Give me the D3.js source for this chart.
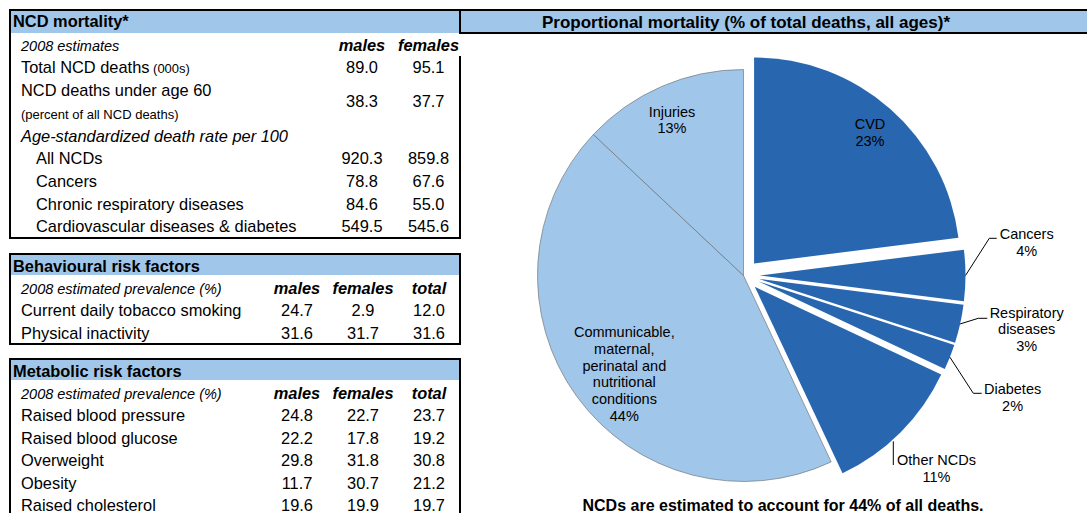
<!DOCTYPE html>
<html>
<head>
<meta charset="utf-8">
<script src="https://cdn.jsdelivr.net/npm/d3@7"></script>
<style>
  html, body { margin: 0; padding: 0; background: #fff; }
  svg { display: block; font-family: "Liberation Sans", Arial, Helvetica, sans-serif; }
</style>
</head>
<body>
<svg id="chart" width="1087" height="513"></svg>
<script>
// ---------- NCD mortality (2008 estimates) ----------
const ncdColumns = ["males", "females"];
const ncdRowLabels = [
  "Total NCD deaths",
  "NCD deaths under age 60",
  "All NCDs",
  "Cancers",
  "Chronic respiratory diseases",
  "Cardiovascular diseases & diabetes"
];
const ncdRowNotes = ["(000s)", "(percent of all NCD deaths)", "", "", "", ""];
const ncdMales   = [89.0, 38.3, 920.3, 78.8, 84.6, 549.5];
const ncdFemales = [95.1, 37.7, 859.8, 67.6, 55.0, 545.6];

// ---------- Behavioural risk factors ----------
const riskColumns = ["males", "females", "total"];
const behaviourLabels  = ["Current daily tobacco smoking", "Physical inactivity"];
const behaviourMales   = [24.7, 31.6];
const behaviourFemales = [2.9, 31.7];
const behaviourTotal   = [12.0, 31.6];

// ---------- Metabolic risk factors ----------
const metabolicLabels  = ["Raised blood pressure", "Raised blood glucose", "Overweight", "Obesity", "Raised cholesterol"];
const metabolicMales   = [24.8, 22.2, 29.8, 11.7, 19.6];
const metabolicFemales = [22.7, 17.8, 31.8, 30.7, 19.9];
const metabolicTotal   = [23.7, 19.2, 30.8, 21.2, 19.7];

// ---------- Proportional mortality ----------
const causes = ["CVD", "Cancers", "Respiratory diseases", "Diabetes", "Other NCDs",
  "Communicable, maternal, perinatal and nutritional conditions", "Injuries"];
const causeLines = [["CVD"], ["Cancers"], ["Respiratory", "diseases"], ["Diabetes"], ["Other NCDs"],
  ["Communicable,", "maternal,", "perinatal and", "nutritional", "conditions"], ["Injuries"]];
const causeShares = [23, 4, 3, 2, 11, 44, 13];
const causeIsNcd  = [true, true, true, true, true, false, false];
const ncdShareTotal = 44;

// ---------- styling ----------
const LIGHT = "#A0C6E9";
const DARK  = "#2866B0";
const BODY = 16.4;
const fmt = d3.format(".1f");

const svg = d3.select("#chart");
svg.append("rect").attr("width", 1087).attr("height", 513).attr("fill", "#fff");

function text(sel, x, y, str, opts = {}) {
  return sel.append("text")
    .attr("x", x).attr("y", y)
    .attr("font-size", opts.size || BODY)
    .attr("font-weight", opts.bold ? "bold" : null)
    .attr("font-style", opts.italic ? "italic" : null)
    .attr("text-anchor", opts.anchor || "start")
    .attr("fill", "#000")
    .text(str);
}

// ---------- header bars ----------
const frame = svg.append("g");
frame.append("rect").attr("x", 11).attr("y", 11).attr("width", 449).attr("height", 22).attr("fill", LIGHT);
frame.append("rect").attr("x", 461).attr("y", 11).attr("width", 626).attr("height", 21).attr("fill", LIGHT);

const line = (x1, y1, x2, y2) => frame.append("line")
  .attr("x1", x1).attr("y1", y1).attr("x2", x2).attr("y2", y2)
  .attr("stroke", "#000").attr("stroke-width", 2);

// NCD mortality box and the pie panel heading
line(9, 10, 1087, 10);
line(10, 9, 10, 239);
line(9, 238, 461, 238);
line(460, 56, 460, 239);
line(460, 9, 460, 34);
line(459, 33, 1087, 33);

text(svg, 13, 27, "NCD mortality*", { bold: true });

// rows in the NCD table sit on a regular baseline grid
const ncdRow = d3.scaleLinear().domain([0, 1]).range([50.7, 73.4]);
const ncdCol = d3.scalePoint().domain(ncdColumns).range([362, 428.5]);

text(svg, 21, ncdRow(0), "2008 estimates", { italic: true, size: 14.5 });
ncdColumns.forEach(c => text(svg, ncdCol(c), ncdRow(0), c, { bold: true, italic: true, anchor: "middle" }));

// slot of each data row on the grid; the second row spans two slots
const ncdSlots = [1, 2, 5, 6, 7, 8];
const ncdIndent = [21, 21, 36, 36, 36, 36];
ncdRowLabels.forEach((lab, i) => {
  const y = ncdRow(ncdSlots[i]);
  const t = text(svg, ncdIndent[i], y, lab);
  let vy = y;
  if (i === 0) {
    t.append("tspan").attr("font-size", 13).text(" " + ncdRowNotes[i]);
  } else if (i === 1) {
    text(svg, 21, ncdRow(ncdSlots[i] + 1), ncdRowNotes[i], { size: 13 });
    vy = (ncdRow(ncdSlots[i]) + ncdRow(ncdSlots[i] + 1)) / 2;
  }
  text(svg, ncdCol("males"), vy, fmt(ncdMales[i]), { anchor: "middle" });
  text(svg, ncdCol("females"), vy, fmt(ncdFemales[i]), { anchor: "middle" });
});
text(svg, 21, ncdRow(4), "Age-standardized death rate per 100", { italic: true });

// ---------- risk factor boxes ----------
const riskCol = d3.scalePoint().domain(riskColumns).range([297, 429]);

function riskBox(top, height, title, labels, males, females, total) {
  const g = svg.append("g");
  g.append("rect").attr("x", 11).attr("y", top + 1).attr("width", 448).attr("height", 20).attr("fill", LIGHT);
  g.append("rect").attr("x", 10).attr("y", top).attr("width", 450).attr("height", height)
    .attr("fill", "none").attr("stroke", "#000").attr("stroke-width", 2);
  text(g, 13, top + 17.5, title, { bold: true });
  const row = d3.scaleLinear().domain([0, 1]).range([top + 39.5, top + 62]);
  text(g, 21, row(0), "2008 estimated prevalence (%)", { italic: true, size: 14.5 });
  riskColumns.forEach(c => text(g, riskCol(c), row(0), c, { bold: true, italic: true, anchor: "middle" }));
  labels.forEach((lab, i) => {
    const y = row(i + 1);
    text(g, 21, y, lab);
    text(g, riskCol("males"), y, fmt(males[i]), { anchor: "middle" });
    text(g, riskCol("females"), y, fmt(females[i]), { anchor: "middle" });
    text(g, riskCol("total"), y, fmt(total[i]), { anchor: "middle" });
  });
}
riskBox(254, 90, "Behavioural risk factors", behaviourLabels, behaviourMales, behaviourFemales, behaviourTotal);
riskBox(359, 200, "Metabolic risk factors", metabolicLabels, metabolicMales, metabolicFemales, metabolicTotal);

// ---------- proportional mortality pie ----------
text(svg, 542, 28, "Proportional mortality (% of total deaths, all ages)*", { bold: true, size: 17 });

const cx = 743.5, cy = 275.5, R = 206, explode = 16;
const slices = causes.map((c, i) => ({ name: c, lines: causeLines[i], share: causeShares[i], ncd: causeIsNcd[i] }));
const pie = d3.pie().sort(null).value(d => d.share).startAngle(0).endAngle(2 * Math.PI);
const arcs = pie(slices);
const arc = d3.arc().innerRadius(0).outerRadius(R);

const mid = d => (d.startAngle + d.endAngle) / 2;
const shift = d => d.data.ncd ? [explode * Math.sin(mid(d)), -explode * Math.cos(mid(d))] : [0, 0];

const pg = svg.append("g").attr("transform", `translate(${cx},${cy})`);
pg.selectAll("path").data(arcs).join("path")
  .attr("d", arc)
  .attr("transform", d => `translate(${shift(d)[0]},${shift(d)[1]})`)
  .attr("fill", d => d.data.ncd ? DARK : LIGHT)
  .attr("stroke", d => d.data.ncd ? "none" : "#666")
  .attr("stroke-width", 0.6);

// label placement (page coordinates) and callout elbows
const labelPlace = {
  "CVD":        { x: 870,    y: 129 },
  "Injuries":   { x: 672,    y: 116.7 },
  "Communicable, maternal, perinatal and nutritional conditions": { x: 624.3, y: 337.3 },
  "Other NCDs": { x: 936.5,  y: 465,   callout: "vertical", lx: 893.3 },
  "Cancers":    { x: 1026.7, y: 239,   callout: [[989.3, 238.3], [996.7, 238.3]] },
  "Respiratory diseases": { x: 1026.7, y: 317.5, callout: [[978.3, 318.3], [987.3, 318.3]] },
  "Diabetes":   { x: 1012.6, y: 394,   callout: [[973.3, 393.3], [981.7, 393.3]] }
};
const lineH = 16.7;

arcs.forEach(d => {
  const p = labelPlace[d.data.name];
  const rows = d.data.lines.concat([d.data.share + "%"]);
  rows.forEach((r, k) => text(svg, p.x, p.y + k * lineH, r, { size: 14.5, anchor: "middle" }));

  const [sx, sy] = shift(d);
  if (Array.isArray(p.callout)) {
    const a = mid(d);
    const start = [cx + sx + R * Math.sin(a), cy + sy - R * Math.cos(a)];
    svg.append("path")
      .attr("d", d3.line()([start].concat(p.callout)))
      .attr("fill", "none").attr("stroke", "#000").attr("stroke-width", 1);
  } else if (p.callout === "vertical") {
    // drop straight down from the slice's outer rim
    const ox = cx + sx, oy = cy + sy;
    const edgeY = oy + Math.sqrt(R * R - (p.lx - ox) * (p.lx - ox));
    svg.append("line")
      .attr("x1", p.lx).attr("y1", edgeY + 2).attr("x2", p.lx).attr("y2", p.y)
      .attr("stroke", "#000").attr("stroke-width", 1);
  }
});

text(svg, 783, 510.5, `NCDs are estimated to account for ${ncdShareTotal}% of all deaths.`, { bold: true, size: 16, anchor: "middle" });
</script>
</body>
</html>
